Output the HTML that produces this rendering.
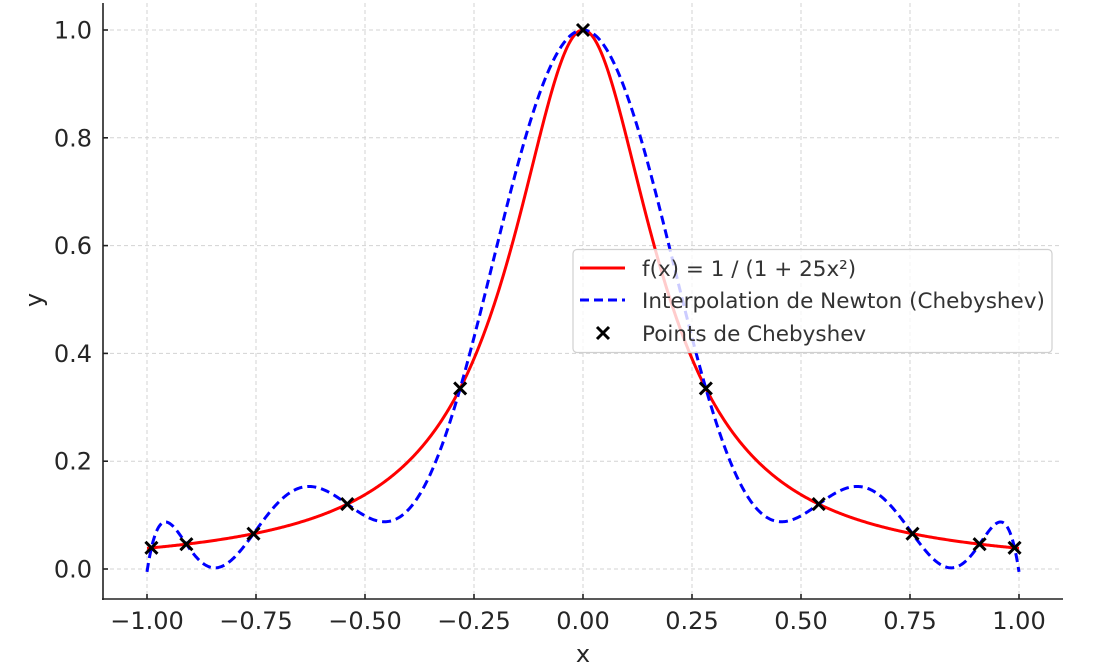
<!DOCTYPE html>
<html><head><meta charset="utf-8"><style>
body{margin:0;background:#fff;}
svg{display:block;font-family:"DejaVu Sans","Liberation Sans",sans-serif;}
</style></head><body>
<svg id="s" width="1112" height="668" xmlns="http://www.w3.org/2000/svg">
<g id="grid" stroke="#d3d3d3" stroke-width="1" stroke-dasharray="4,3"></g>
<g id="curves"></g>
<g id="axes" stroke="#222" stroke-width="1.6" fill="none">
<line x1="103" y1="3" x2="103" y2="600"/>
<line x1="102" y1="599" x2="1063" y2="599"/>
</g>
<g id="labels" fill="#262626" font-size="24"></g>
<text x="583" y="662" font-size="24" text-anchor="middle" fill="#262626">x</text>
<text transform="translate(42,300) rotate(-90)" font-size="24" text-anchor="middle" fill="#262626">y</text>
<g id="legend">
<rect x="573" y="249.5" width="479" height="103" rx="4" fill="#fff" fill-opacity="0.8" stroke="#d0d0d0" stroke-width="1.2"/>
<line x1="580" y1="268" x2="625" y2="268" stroke="#ff0000" stroke-width="3"/>
<line x1="580" y1="300" x2="625" y2="300" stroke="#0000ff" stroke-width="3" stroke-dasharray="9,5"/>
<path d="M597,327 l12,12 M609,327 l-12,12" stroke="#000" stroke-width="3"/>
<g font-size="21.5" fill="#333">
<text x="642" y="276">f(x) = 1 / (1 + 25x²)</text>
<text x="642" y="308">Interpolation de Newton (Chebyshev)</text>
<text x="642" y="341">Points de Chebyshev</text>
</g>
</g>
</svg>
<script>
var NS="http://www.w3.org/2000/svg";
function X(x){return 583+436*x;}function Y(y){return 569-539*y;}
function el(p,t,a,txt){var e=document.createElementNS(NS,t);for(var k in a)e.setAttribute(k,a[k]);if(txt!=null)e.textContent=txt;document.getElementById(p).appendChild(e);return e;}
var xt=[-1,-0.75,-0.5,-0.25,0,0.25,0.5,0.75,1];
xt.forEach(function(v){var px=X(v);el("grid","line",{x1:px,y1:3,x2:px,y2:599});
el("axes","line",{x1:px,y1:599,x2:px,y2:594});
el("labels","text",{x:px,y:629,"text-anchor":"middle"},(v<0?"\u2212":"")+Math.abs(v).toFixed(2));});
[0,0.2,0.4,0.6,0.8,1.0].forEach(function(v){var py=Y(v);el("grid","line",{x1:103,y1:py,x2:1062,y2:py});
el("axes","line",{x1:103,y1:py,x2:108,y2:py});
el("labels","text",{x:92,y:py+8.5,"text-anchor":"end"},v.toFixed(1));});
function f(x){return 1/(1+25*x*x);}
var n=11,xs=[],ys=[];for(var k=0;k<n;k++){var x=Math.cos((2*k+1)*Math.PI/(2*n));xs.push(x);ys.push(f(x));}
function P(x){var s=0;for(var i=0;i<n;i++){var l=1;for(var j=0;j<n;j++)if(j!=i)l*=(x-xs[j])/(xs[i]-xs[j]);s+=ys[i]*l;}return s;}
var d1="",d2="";for(var i=0;i<=1000;i++){var x=-1+2*i/1000;d1+=(i?"L":"M")+X(x).toFixed(2)+","+Y(f(x)).toFixed(2);d2+=(i?"L":"M")+X(x).toFixed(2)+","+Y(P(x)).toFixed(2);}
el("curves","path",{d:d1,stroke:"#ff0000","stroke-width":3,fill:"none"});
el("curves","path",{d:d2,stroke:"#0000ff","stroke-width":3,fill:"none","stroke-dasharray":"9,5"});
for(var k=0;k<n;k++){var px=X(xs[k]),py=Y(ys[k]);el("curves","path",{d:"M"+(px-6)+","+(py-6)+"l12,12M"+(px+6)+","+(py-6)+"l-12,12",stroke:"#000","stroke-width":3});}
</script>
</body></html>
